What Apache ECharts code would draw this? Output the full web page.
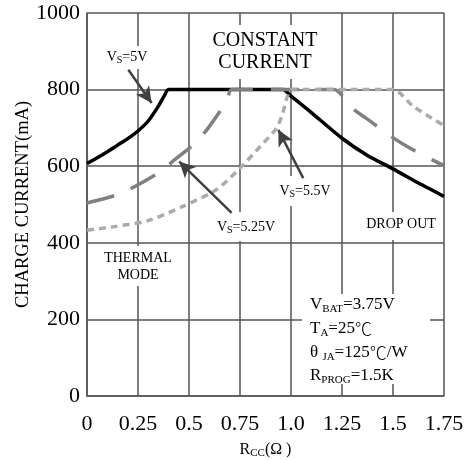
<!DOCTYPE html>
<html>
<head>
<meta charset="utf-8">
<script src="https://cdn.jsdelivr.net/npm/echarts@6/dist/echarts.min.js"></script>
<style>
html,body{margin:0;padding:0;background:#fff;}
#chart{width:467px;height:460px;}
</style>
</head>
<body>
<div id="chart"></div>
<script>
// ---- data ----
const xTickLabels = ['0', '0.25', '0.5', '0.75', '1.0', '1.25', '1.5', '1.75'];
const yTickLabels = ['0', '200', '400', '600', '800', '1000'];

const vs5X  = [0, 0.05, 0.1, 0.15, 0.2, 0.25, 0.3, 0.35, 0.38, 0.40, 0.96, 1.0, 1.1, 1.25, 1.375, 1.5, 1.625, 1.75];
const vs5Y  = [607, 622, 638, 655, 672, 692, 718, 757, 785, 800, 800, 783, 740, 673, 628, 593, 556, 521];

const vs525X = [0, 0.145, 0.235, 0.36, 0.43, 0.54, 0.60, 0.685, 0.71, 1.21, 1.30, 1.39, 1.49, 1.58, 1.71, 1.75];
const vs525Y = [504, 525, 547, 586, 617, 665, 704, 770, 800, 800, 752, 717, 678, 648, 612, 602];

const vs55X = [0, 0.13, 0.3, 0.47, 0.635, 0.75, 0.85, 0.93, 0.96, 0.985, 1.005, 1.50, 1.60, 1.75];
const vs55Y = [433, 442, 458, 495, 539, 595, 652, 700, 739, 787, 800, 800, 756, 706];

// annotation arrows: tail -> head (data coordinates)
const arrowTails = [[0.2025, 852], [0.709, 478], [1.06, 569]];
const arrowHeads = [[0.317, 765], [0.452, 612], [0.938, 695]];

function zip(xs, ys) { return xs.map((x, i) => [x, ys[i]]); }

const SERIF = 'Liberation Serif';
const CJK = 'Noto Sans CJK SC';

const chart = echarts.init(document.getElementById('chart'), null, {renderer: 'canvas'});

function subRich(size, subSize, drop) {
  return {
    n: {fontSize: size, fontFamily: SERIF, color: '#000'},
    s: {fontSize: subSize, fontFamily: SERIF, color: '#000', padding: [drop, 0, 0, 0]},
    c: {fontSize: size, fontFamily: CJK, color: '#000', fontWeight: 300}
  };
}

function label(x, y, text, rich, align) {
  return {
    type: 'text', z: 1, x: x, y: y,
    style: {text: text, rich: rich, align: align || 'center', verticalAlign: 'middle', fill: '#000'}
  };
}
function plain(x, y, text, size) {
  return {type: 'text', z: 1, x: x, y: y,
    style: {text: text, fontSize: size, fontFamily: SERIF, fill: '#000', align: 'center', verticalAlign: 'middle'}};
}
function whiteBox(x, y, w, h) {
  return {type: 'rect', z: 1, shape: {x: x, y: y, width: w, height: h}, style: {fill: '#fff'}};
}

const small = subRich(14, 10, 7);
const param = subRich(17, 11, 8);

const option = {
  animation: false,
  backgroundColor: '#fff',
  grid: {left: 87, right: 23, top: 13, bottom: 64, containLabel: false, outerBoundsMode: 'none'},
  xAxis: {
    type: 'value', min: 0, max: 1.75, interval: 0.25,
    name: '{n|R}{s|CC}{n|(Ω )}',
    nameLocation: 'middle', nameGap: 45,
    nameTextStyle: {rich: subRich(16, 11, 7)},
    axisLine: {show: true, lineStyle: {color: '#555', width: 1.5}},
    axisTick: {show: false},
    axisLabel: {
      fontSize: 22, fontFamily: SERIF, color: '#000', margin: 17,
      formatter: v => xTickLabels[Math.round(v / 0.25)]
    },
    splitLine: {show: true, lineStyle: {color: '#555', width: 1.5}}
  },
  yAxis: {
    type: 'value', min: 0, max: 1000, interval: 200,
    name: 'CHARGE CURRENT(mA)',
    nameLocation: 'middle', nameGap: 54, nameMoveOverlap: false,
    nameTextStyle: {fontSize: 18.5, fontFamily: SERIF, color: '#000'},
    axisLine: {show: true, lineStyle: {color: '#555', width: 1.5}},
    axisTick: {show: false},
    axisLabel: {fontSize: 22, fontFamily: SERIF, color: '#000', margin: 7,
      formatter: v => yTickLabels[Math.round(v / 200)]},
    splitLine: {show: true, lineStyle: {color: '#555', width: 1.5}}
  },
  series: [
    {
      name: 'VS=5V', type: 'line', data: zip(vs5X, vs5Y),
      showSymbol: false, symbol: 'none', smooth: 0.25,
      lineStyle: {color: '#000', width: 3.5},
      markLine: {
        silent: true, animation: false,
        symbol: ['none', 'arrow'], symbolSize: [12, 16],
        lineStyle: {color: '#404040', width: 2.5, type: 'solid'},
        label: {show: false},
        emphasis: {disabled: true},
        data: arrowTails.map((t, i) => [{coord: t}, {coord: arrowHeads[i]}])
      }
    },
    {
      name: 'VS=5.25V', type: 'line', data: zip(vs525X, vs525Y),
      showSymbol: false, symbol: 'none', smooth: 0.25,
      lineStyle: {color: '#808080', width: 3.5, type: [28, 18], cap: 'butt'}
    },
    {
      name: 'VS=5.5V', type: 'line', data: zip(vs55X, vs55Y),
      showSymbol: false, symbol: 'none', smooth: 0.25,
      lineStyle: {color: '#ababab', width: 3.5, type: [7, 5], cap: 'butt'}
    }
  ],
  graphic: [
    whiteBox(104, 46, 48, 23),
    whiteBox(203, 25, 122, 54),
    whiteBox(276, 176, 62, 30),
    whiteBox(213, 212, 66, 29),
    whiteBox(362, 212, 78, 28),
    whiteBox(100, 246, 76, 40),
    whiteBox(302, 294, 128, 90),
    label(127, 57, '{n|V}{s|S}{n|=5V}', small),
    plain(265, 41, 'CONSTANT', 20),
    plain(265, 63, 'CURRENT', 20),
    label(305, 191, '{n|V}{s|S}{n|=5.5V}', small),
    label(246, 227, '{n|V}{s|S}{n|=5.25V}', small),
    plain(401, 224, 'DROP OUT', 14),
    plain(138, 258, 'THERMAL', 14),
    plain(138, 275, 'MODE', 14),
    label(310, 305, '{n|V}{s|BAT}{n|=3.75V}', param, 'left'),
    label(310, 329, '{n|T}{s|A}{n|=25}{c|℃}', param, 'left'),
    label(310, 353, '{n|θ }{s|JA}{n|=125}{c|℃}{n|/W}', param, 'left'),
    label(310, 376, '{n|R}{s|PROG}{n|=1.5K}', param, 'left')
  ]
};
chart.setOption(option);
</script>
</body>
</html>
